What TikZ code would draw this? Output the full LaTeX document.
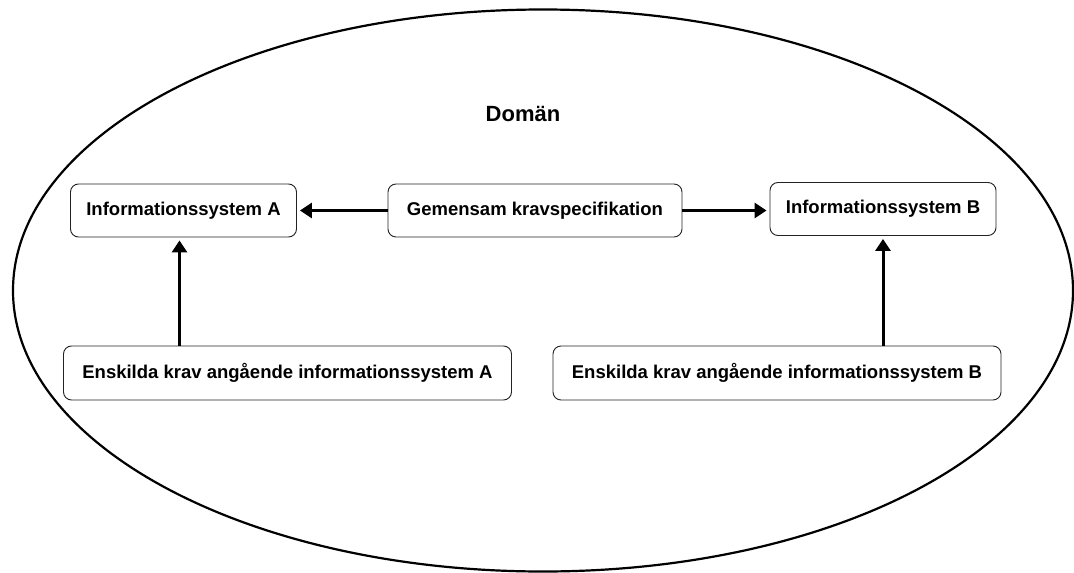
\documentclass[tikz,border=0pt]{standalone}
\usepackage{fontspec}
\setmainfont{Liberation Sans}
\usetikzlibrary{arrows.meta,positioning}
\definecolor{Line}{HTML}{000000}
\definecolor{Edge}{HTML}{222222}

\begin{document}
\begin{tikzpicture}[
 x=1pt,y=-1pt,
 b/.style={draw=Edge,line width=0.9pt,rounded corners=8pt,fill=white,minimum height=53pt,inner sep=0pt,font=\bfseries\fontsize{18.5}{22}\selectfont},
 a/.style={-{Triangle[length=12pt,width=15pt]},line width=3pt,draw=Line,shorten >=3pt}
]
\useasboundingbox (0,0) rectangle (1074,573);
\draw[line width=2.2pt,draw=Line] (543,290.5) ellipse [x radius=530pt,y radius=281pt];
\node[font=\bfseries\fontsize{22}{26}\selectfont] (doman) at (523,114) {Domän};
\node[b,minimum width=226pt] (infoA) at (183.5,210.5) {Informationssystem A};
\node[b,minimum width=294pt] (gem) at (535,210.5) {Gemensam kravspecifikation};
\node[b,minimum width=226pt] (infoB) at (883,209) {Informationssystem B};
\node[b,minimum width=448pt,minimum height=54pt] (ensA) at (287.5,373) {Enskilda krav angående informationssystem A};
\node[b,minimum width=448pt,minimum height=54pt] (ensB) at (777,373) {Enskilda krav angående informationssystem B};
\draw[a] (gem.west) -- (gem.west -| infoA.east);
\draw[a] (gem.east) -- (gem.east -| infoB.west);
\draw[a] ([xshift=-4pt]infoA.south |- ensA.north) -- ([xshift=-4pt]infoA.south);
\draw[a] (infoB.south |- ensB.north) -- (infoB.south);
\end{tikzpicture}
\end{document}
